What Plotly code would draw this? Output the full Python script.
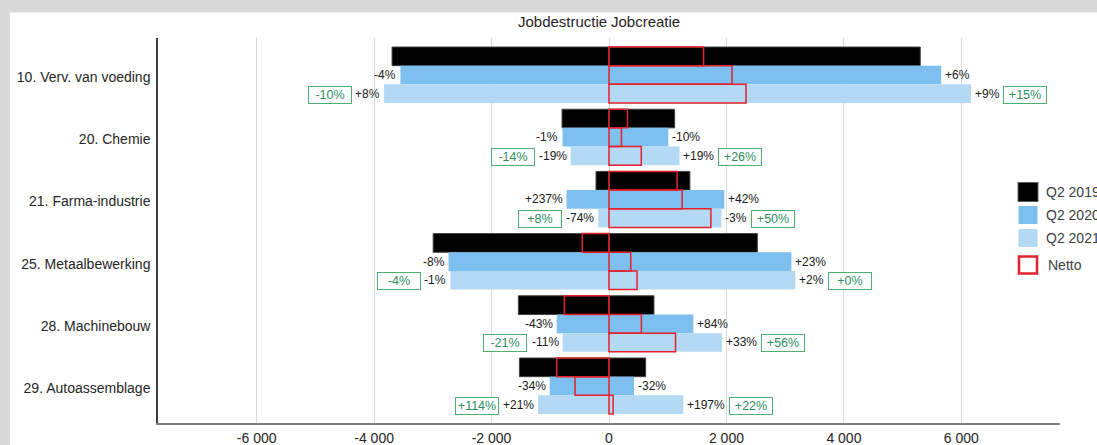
import plotly.graph_objects as go

# ---- data -------------------------------------------------------------
categories = [
    "10. Verv. van voeding",
    "20. Chemie",
    "21. Farma-industrie",
    "25. Metaalbewerking",
    "28. Machinebouw",
    "29. Autoassemblage",
]
years = ["Q2 2019", "Q2 2020", "Q2 2021"]

# job destruction (negative) and job creation (positive) per sector
destruction_2019 = [-3694, -800, -221, -2994, -1543, -1525]
creation_2019 = [5300, 1118, 1377, 2526, 766, 625]
netto_2019 = [1610, 315, 1160, -455, -760, -890]

destruction_2020 = [-3551, -792, -723, -2732, -890, -1009]
creation_2020 = [5657, 1010, 1964, 3106, 1436, 426]
netto_2020 = [2095, 212, 1245, 370, 552, -578]

destruction_2021 = [-3830, -652, -182, -2700, -788, -1208]
creation_2021 = [6163, 1200, 1913, 3171, 1924, 1266]
netto_2021 = [2333, 550, 1735, 478, 1133, 70]

# year-on-year changes
destruction_change_2020 = ["-4%", "-1%", "+237%", "-8%", "-43%", "-34%"]
creation_change_2020 = ["+6%", "-10%", "+42%", "+23%", "+84%", "-32%"]
destruction_change_2021 = ["+8%", "-19%", "-74%", "-1%", "-11%", "+21%"]
creation_change_2021 = ["+9%", "+19%", "-3%", "+2%", "+33%", "+197%"]
# changes 2021 vs 2019
destruction_change_2y = ["-10%", "-14%", "+8%", "-4%", "-21%", "+114%"]
creation_change_2y = ["+15%", "+26%", "+50%", "+0%", "+56%", "+22%"]

tick_values = [-6000, -4000, -2000, 0, 2000, 4000, 6000]
tick_labels = ["-6 000", "-4 000", "-2 000", "0", "2 000", "4 000", "6 000"]

# ---- layout constants -------------------------------------------------
W, H = 1097, 445
L, R, T, B = 158, 37, 38, 22
FONT = "Arial, Liberation Sans, sans-serif"
fills = ["#000000", "#7DBFEE", "#B3D9F5"]
edges = ["#404040", "#7DBFEE", "#B3D9F5"]
red = "#E5202A"
green_edge = "#4DAF72"
green_text = "#2E8F62"
bar_w = 0.3
offsets = [-0.45, -0.15, 0.15]


def paper_x(p):
    return (p - L) / (W - L - R)


def paper_y(q):
    return (H - B - q) / (H - T - B)


CHAR_W = {"+": 0.584, "-": 0.333, "%": 0.889}


def text_width(s, size):
    return sum(CHAR_W.get(c, 0.556) for c in s) * size


destr = [destruction_2019, destruction_2020, destruction_2021]
creat = [creation_2019, creation_2020, creation_2021]
netto = [netto_2019, netto_2020, netto_2021]

fig = go.Figure()

for k in range(3):
    for vals in (destr[k], creat[k]):
        fig.add_trace(go.Bar(
            x=vals, y=categories, orientation="h",
            width=bar_w, offset=offsets[k],
            marker=dict(color=fills[k], line=dict(color=edges[k], width=1 if k == 0 else 0)),
            opacity=1, showlegend=False, hoverinfo="x+y", name=years[k],
        ))

for k in range(3):
    fig.add_trace(go.Bar(
        x=netto[k], y=categories, orientation="h",
        width=bar_w, offset=offsets[k],
        marker=dict(color="rgba(0,0,0,0)", line=dict(color=red, width=1.5)),
        showlegend=False, hoverinfo="x+y", name="Netto",
    ))

annotations = []
LBL = 12
GREEN = 12.5


def pct_label(x, y, text, side):
    annotations.append(dict(
        x=x, y=y, xref="x", yref="y", text=text, showarrow=False,
        xanchor="right" if side < 0 else "left", xshift=2 * side,
        font=dict(family=FONT, size=LBL, color="#1a1a1a"),
    ))


def green_box(x, y, text, label, side):
    shift = 2 + text_width(label, LBL) + 6
    annotations.append(dict(
        x=x, y=y, xref="x", yref="y", text=text, showarrow=False,
        xanchor="right" if side < 0 else "left", xshift=shift * side,
        yshift=-1, width=40, height=14, align="center",
        bordercolor=green_edge, borderwidth=1, borderpad=1, bgcolor="white",
        font=dict(family=FONT, size=GREEN, color=green_text),
    ))


for i in range(len(categories)):
    y20 = i + offsets[1] + bar_w / 2
    y21 = i + offsets[2] + bar_w / 2
    pct_label(destruction_2020[i], y20, destruction_change_2020[i], -1)
    pct_label(creation_2020[i], y20, creation_change_2020[i], 1)
    pct_label(destruction_2021[i], y21, destruction_change_2021[i], -1)
    pct_label(creation_2021[i], y21, creation_change_2021[i], 1)
    green_box(destruction_2021[i], y21, destruction_change_2y[i], destruction_change_2021[i], -1)
    green_box(creation_2021[i], y21, creation_change_2y[i], creation_change_2021[i], 1)

# header split at zero
for txt, anchor, sh in (("Jobdestructie", "right", 0), ("Jobcreatie", "left", 0)):
    annotations.append(dict(
        x=0, y=paper_y(21), xref="x", yref="paper", text=txt, showarrow=False,
        xanchor=anchor, yanchor="middle", xshift=sh,
        font=dict(family=FONT, size=15, color="#262626"),
    ))

shapes = [
    # grey frame around the white panel
    dict(type="rect", xref="paper", yref="paper", layer="below",
         x0=paper_x(0), x1=paper_x(W), y0=paper_y(12.5), y1=paper_y(0),
         fillcolor="#D9D9D9", line=dict(width=0)),
    dict(type="rect", xref="paper", yref="paper", layer="below",
         x0=paper_x(0), x1=paper_x(10), y0=paper_y(H), y1=paper_y(0),
         fillcolor="#D9D9D9", line=dict(width=0)),
]

# legend
legend_items = years + ["Netto"]
legend_rows = [192, 215, 238, 265]
for name, yc, k in zip(legend_items, legend_rows, range(4)):
    if k < 3:
        shapes.append(dict(
            type="rect", xref="paper", yref="paper",
            x0=paper_x(1018), x1=paper_x(1038), y0=paper_y(yc + 9.5), y1=paper_y(yc - 9.5),
            fillcolor=fills[k], line=dict(color="#595959" if k == 0 else "#FFFFFF", width=1),
        ))
        tx = 1044
    else:
        shapes.append(dict(
            type="rect", xref="paper", yref="paper",
            x0=paper_x(1019), x1=paper_x(1037), y0=paper_y(yc + 8.5), y1=paper_y(yc - 8.5),
            fillcolor="white", line=dict(color=red, width=2.5),
        ))
        tx = 1046
    annotations.append(dict(
        x=paper_x(tx), y=paper_y(yc), xref="paper", yref="paper", text=name,
        showarrow=False, xanchor="left", yanchor="middle",
        font=dict(family=FONT, size=14, color="#404040"),
    ))

fig.update_layout(
    width=W, height=H,
    margin=dict(l=L, r=R, t=T, b=B, autoexpand=False),
    paper_bgcolor="white", plot_bgcolor="white",
    barmode="overlay", showlegend=False,
    font=dict(family=FONT, size=14, color="#262626"),
    annotations=annotations, shapes=shapes,
    xaxis=dict(
        range=[-7680, 7680], tickvals=tick_values, ticktext=tick_labels,
        showgrid=True, gridcolor="#D9D9D9", gridwidth=1, zeroline=False,
        showline=True, linecolor="#7F7F7F", linewidth=2,
        ticks="", ticklabelstandoff=1,
        tickfont=dict(family=FONT, size=14, color="#262626"),
    ),
    yaxis=dict(
        type="category", categoryarray=categories, categoryorder="array",
        range=[len(categories) - 1 + 0.595, -0.595],
        showgrid=False, zeroline=False,
        showline=True, linecolor="#404040", linewidth=1.5,
        ticks="", ticklabelstandoff=3, ticklabelshift=-2,
        tickfont=dict(family=FONT, size=14, color="#262626"),
    ),
)

fig.write_html("out.html")
